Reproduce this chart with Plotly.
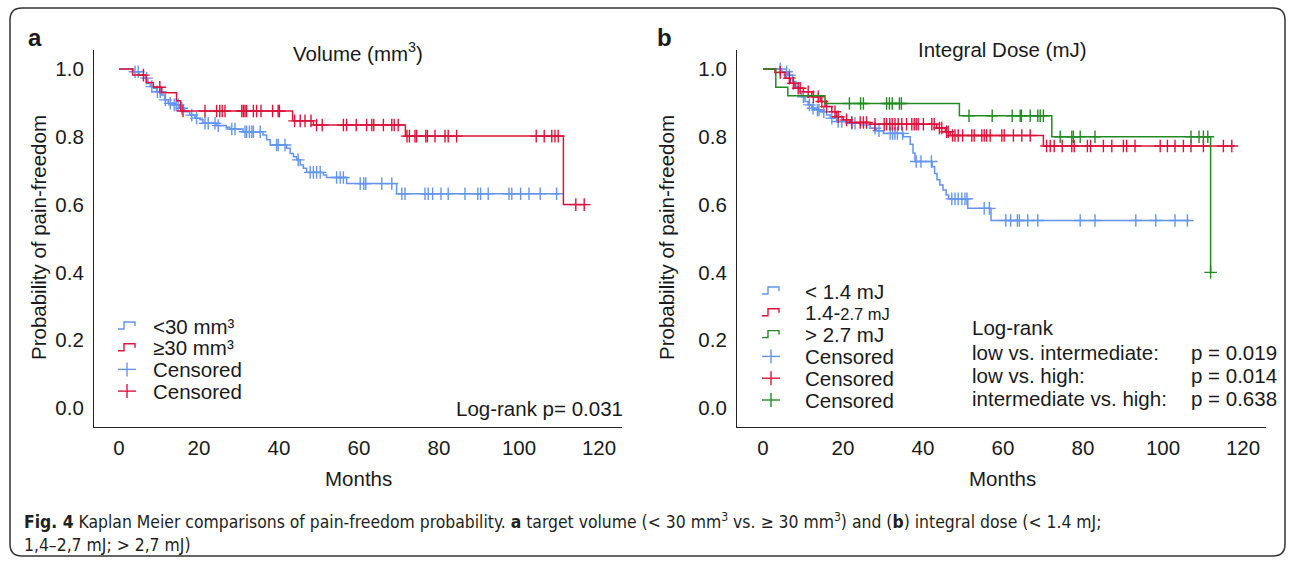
import plotly.graph_objects as go

W, H = 1292, 563
BLUE, RED, GREEN = "#6495ED", "#DC143C", "#228B22"
TXT = "#1a1a1a"
FONT = "Liberation Sans, Arial, sans-serif"
FS = 20.5

# ---------------- Panel a: target volume ----------------
a_small_t = [3.6, 5.0, 6.2, 7.2, 7.8, 8.6, 9.4, 10.6, 11.4, 12.3, 13.6, 15.2, 16.4, 17.7, 19.0,
             20.2, 21.0, 24.3, 26.8, 27.7, 31.0, 36.0, 36.9, 37.8, 41.9, 42.8, 43.6, 44.4, 45.3,
             46.1, 46.9, 51.1, 51.9, 56.9, 69.4]
a_small_s = [0.992, 0.982, 0.973, 0.958, 0.948, 0.943, 0.933, 0.923, 0.909, 0.899, 0.894, 0.884,
             0.874, 0.864, 0.855, 0.850, 0.840, 0.833, 0.828, 0.823, 0.815, 0.805, 0.791, 0.776,
             0.766, 0.751, 0.741, 0.732, 0.717, 0.707, 0.695, 0.687, 0.680, 0.662, 0.632]
a_small_end = 110.2
a_small_cens = [4.0, 4.8, 6.9, 8.2, 9.6, 10.3, 11.6, 12.8, 13.8, 14.3, 14.8, 15.7, 18.2, 19.4, 21.5,
                22.3, 24.0, 24.8, 28.2, 29.0, 31.5, 31.9, 32.6, 33.2, 33.6, 35.3, 39.4, 39.8, 41.5,
                44.8, 47.8, 48.6, 49.4, 50.3, 54.4, 55.3, 56.1, 60.3, 61.2, 61.7, 65.7, 68.2, 70.7,
                71.5, 76.5, 77.3, 78.4, 80.5, 82.3, 86.5, 89.7, 90.4, 92.3, 97.5, 98.2, 100.4, 102.5,
                105.3, 109.4]

a_large_t = [3.4, 6.8, 8.6, 10.7, 14.4, 15.4, 43.4, 48.6, 71.6, 111.1]
a_large_s = [0.982, 0.960, 0.946, 0.930, 0.906, 0.876, 0.847, 0.835, 0.802, 0.600]
a_large_end = 116.8
a_large_cens = [6.1, 10.2, 16.0, 21.5, 24.4, 25.2, 25.8, 26.5, 30.7, 31.1, 31.5, 31.9, 33.6, 34.4,
                35.5, 38.4, 39.8, 40.1, 43.9, 45.3, 46.5, 48.0, 49.4, 50.8, 56.1, 56.9, 59.3, 61.9,
                63.2, 63.7, 66.1, 68.2, 68.8, 69.8, 72.0, 72.6, 74.0, 74.4, 76.7, 77.1, 79.0, 81.5,
                82.3, 84.4, 104.3, 106.3, 108.2, 109.0, 109.8, 114.2, 116.3]

# ---------------- Panel b: integral dose ----------------
b_low_t = [4.8, 6.2, 7.4, 8.2, 9.0, 9.7, 10.5, 11.3, 12.2, 13.4, 14.7, 15.9, 16.8, 18.4, 21.8,
           24.3, 26.8, 28.4, 30.1, 35.1, 36.8, 37.5, 38.0, 42.3, 42.9, 43.5, 44.2, 45.0, 45.8,
           46.4, 51.2, 57.0]
b_low_s = [0.992, 0.982, 0.963, 0.948, 0.933, 0.918, 0.904, 0.894, 0.884, 0.879, 0.874, 0.864,
           0.855, 0.845, 0.840, 0.835, 0.825, 0.818, 0.810, 0.800, 0.778, 0.752, 0.727, 0.712,
           0.692, 0.673, 0.658, 0.643, 0.628, 0.617, 0.589, 0.553]
b_low_end = 106.7
b_low_cens = [4.3, 5.9, 6.6, 10.1, 11.6, 12.5, 13.6, 14.0, 15.2, 17.2, 18.8, 19.7, 22.2, 23.0,
              28.0, 29.0, 31.8, 32.4, 33.0, 33.6, 34.9, 38.3, 39.5, 42.1, 47.2, 48.0, 48.8, 49.7,
              50.5, 51.0, 55.3, 56.6, 60.7, 61.9, 63.6, 64.1, 66.2, 68.7, 79.3, 83.0, 93.2, 98.2,
              103.0, 106.1]

b_mid_t = [3.0, 5.5, 6.8, 8.0, 10.1, 12.2, 14.3, 15.5, 17.2, 18.4, 20.1, 21.8, 26.8, 43.4, 45.6,
           46.8, 70.1]
b_mid_s = [0.990, 0.973, 0.958, 0.943, 0.933, 0.918, 0.904, 0.889, 0.874, 0.859, 0.850, 0.842,
           0.837, 0.826, 0.815, 0.804, 0.773]
b_mid_end = 117.9
b_mid_cens = [4.3, 6.6, 7.6, 8.8, 9.3, 11.3, 12.6, 13.8, 14.7, 15.9, 18.0, 18.8, 20.9, 22.2, 24.3,
              25.1, 25.9, 28.0, 30.3, 30.9, 31.7, 32.3, 33.0, 33.8, 34.7, 35.9, 37.2, 37.8, 38.3,
              38.8, 40.1, 42.2, 42.8, 44.1, 44.7, 45.9, 46.3, 47.4, 48.0, 48.8, 49.9, 52.2, 52.8,
              54.7, 55.3, 55.9, 56.8, 59.7, 60.3, 62.6, 64.7, 66.8, 70.9, 71.8, 72.8, 74.8, 77.2,
              77.8, 81.1, 81.9, 85.1, 87.2, 90.1, 90.9, 93.0, 99.3, 101.1, 103.0, 105.1, 107.0,
              110.1, 115.1, 117.2]

b_high_t = [3.2, 6.2, 15.5, 49.1, 72.2, 111.9]
b_high_s = [0.946, 0.921, 0.898, 0.862, 0.800, 0.400]
b_high_end = 111.9
b_high_cens = [21.6, 24.4, 25.1, 30.9, 31.6, 32.3, 34.1, 34.6, 51.5, 57.3, 62.3, 64.3, 64.6, 66.8,
               68.7, 69.3, 70.1, 74.3, 77.2, 77.6, 79.3, 83.0, 107.0, 109.0, 110.1, 111.2, 111.9]

x_ticks = [0, 20, 40, 60, 80, 100, 120]
y_ticks = [0.0, 0.2, 0.4, 0.6, 0.8, 1.0]
y_ticktext = ["0.0", "0.2", "0.4", "0.6", "0.8", "1.0"]

a_legend = ["&lt;30 mm³", "≥30 mm³", "Censored", "Censored"]
b_legend = ["&lt; 1.4 mJ", "1.4-<span style='font-size:16.5px'>2.7 mJ</span>", "&gt; 2.7 mJ",
            "Censored", "Censored", "Censored"]
b_logrank_rows = ["low vs. intermediate:", "low vs. high:", "intermediate vs. high:"]
b_logrank_p = ["p = 0.019", "p = 0.014", "p = 0.638"]


def px(x):
    return x / W


def py(y):
    return 1 - y / H


def km_xy(t, s, end):
    return [0.0] + list(t) + [end], [1.0] + list(s) + [s[-1]]


def surv_at(tc, t, s):
    level = 1.0
    for ti, si in zip(t, s):
        if ti <= tc:
            level = si
    return level


fig = go.Figure()


def add_curve(t, s, end, cens, color, xa, ya):
    x, y = km_xy(t, s, end)
    fig.add_trace(go.Scatter(x=x, y=y, mode="lines", xaxis=xa, yaxis=ya,
                             line=dict(color=color, width=1.5, shape="hv"),
                             showlegend=False, hoverinfo="skip"))
    fig.add_trace(go.Scatter(x=cens, y=[surv_at(c, t, s) for c in cens], mode="markers",
                             xaxis=xa, yaxis=ya,
                             marker=dict(symbol="cross-thin", size=9,
                                         line=dict(color=color, width=1.4)),
                             showlegend=False, hoverinfo="skip"))


add_curve(a_small_t, a_small_s, a_small_end, a_small_cens, BLUE, "x", "y")
add_curve(a_large_t, a_large_s, a_large_end, a_large_cens, RED, "x", "y")
add_curve(b_low_t, b_low_s, b_low_end, b_low_cens, BLUE, "x2", "y2")
add_curve(b_mid_t, b_mid_s, b_mid_end, b_mid_cens, RED, "x2", "y2")
add_curve(b_high_t, b_high_s, b_high_end, b_high_cens, GREEN, "x2", "y2")

ydom = [py(427), py(50)]
axis_common = dict(showline=True, linecolor="#222", linewidth=1.2, showgrid=False,
                   zeroline=False, ticks="", tickfont=dict(size=FS, color=TXT, family=FONT))
fig.update_layout(
    xaxis=dict(domain=[px(94), px(622)], range=[-6.25, 125.75], tickvals=x_ticks,
               anchor="y", ticklabelstandoff=2, **axis_common),
    yaxis=dict(domain=ydom, range=[-0.056, 1.056], tickvals=y_ticks, ticktext=y_ticktext,
               anchor="x", ticklabelstandoff=5, **axis_common),
    xaxis2=dict(domain=[px(737), px(1266)], range=[-6.5, 125.75], tickvals=x_ticks,
                anchor="y2", ticklabelstandoff=2, **axis_common),
    yaxis2=dict(domain=ydom, range=[-0.056, 1.056], tickvals=y_ticks, ticktext=y_ticktext,
                anchor="x2", ticklabelstandoff=5, **axis_common),
)

ann = []


def text(x, y, s, size=FS, xanchor="center", angle=0, color=TXT, family=FONT):
    ann.append(dict(x=px(x), y=py(y), xref="paper", yref="paper", text=s, showarrow=False,
                    xanchor=xanchor, yanchor="middle", textangle=angle,
                    font=dict(size=size, color=color, family=family)))


text(35, 37, "<b>a</b>", size=24)
text(664, 37, "<b>b</b>", size=24)
text(358, 52, "Volume (mm<sup>3</sup>)")
text(1002, 49, "Integral Dose (mJ)")
text(358, 478, "Months")
text(1002, 478, "Months")
text(38, 238, "Probability of pain-freedom", angle=-90)
text(666, 238, "Probability of pain-freedom", angle=-90)
text(625, 408, "Log-rank p= 0.031", xanchor="right")
text(970, 327, "Log-rank", xanchor="left")
for i, (r, p) in enumerate(zip(b_logrank_rows, b_logrank_p)):
    text(970, 352 + 23 * i, r, xanchor="left")
    text(1189, 352 + 23 * i, p, xanchor="left")

shapes = []


def step_icon(x0, y, color):
    path = "M {},{} L {},{} L {},{} L {},{} L {},{}".format(
        px(x0), py(y + 3), px(x0 + 6), py(y + 3), px(x0 + 6), py(y - 4),
        px(x0 + 17), py(y - 4), px(x0 + 17), py(y))
    shapes.append(dict(type="path", path=path, xref="paper", yref="paper",
                       line=dict(color=color, width=1.4)))


def plus_icon(xc, y, color):
    shapes.append(dict(type="line", xref="paper", yref="paper", x0=px(xc - 9), x1=px(xc + 9),
                       y0=py(y), y1=py(y), line=dict(color=color, width=1.4)))
    shapes.append(dict(type="line", xref="paper", yref="paper", x0=px(xc), x1=px(xc),
                       y0=py(y - 7), y1=py(y + 7), line=dict(color=color, width=1.4)))


a_cols = [BLUE, RED, BLUE, RED]
for i, (lab, c) in enumerate(zip(a_legend, a_cols)):
    yy = 326 + 21.7 * i
    if i < 2:
        step_icon(118, yy, c)
    else:
        plus_icon(127, yy, c)
    text(151, yy, lab, xanchor="left")

b_cols = [BLUE, RED, GREEN, BLUE, RED, GREEN]
for i, (lab, c) in enumerate(zip(b_legend, b_cols)):
    yy = 291 + 21.8 * i
    if i < 3:
        step_icon(762, yy, c)
    else:
        plus_icon(771, yy, c)
    text(803, yy, lab, xanchor="left")

# caption
CAP = "DejaVu Sans Condensed, Open Sans, sans-serif"
text(22, 521, "<b>Fig. 4</b> Kaplan Meier comparisons of pain-freedom probability. <b>a</b> target volume "
     "(&lt; 30 mm<sup>3</sup> vs. ≥ 30 mm<sup>3</sup>) and (<b>b</b>) integral dose (&lt; 1.4 mJ;",
     size=17.4, xanchor="left", color="#231f20", family=CAP)
text(22, 545, "1,4–2,7 mJ; &gt; 2,7 mJ)", size=17.4, xanchor="left", color="#231f20", family=CAP)

# rounded frame
r = 12
x0, x1, y0, y1 = 10, 1285, 8, 556
frame = ("M {a},{b} L {c},{b} Q {d},{b} {d},{e} L {d},{f} Q {d},{g} {c},{g} "
         "L {a},{g} Q {h},{g} {h},{f} L {h},{e} Q {h},{b} {a},{b} Z").format(
    a=px(x0 + r), b=py(y0), c=px(x1 - r), d=px(x1), e=py(y0 + r), f=py(y1 - r), g=py(y1), h=px(x0))
shapes.append(dict(type="path", path=frame, xref="paper", yref="paper",
                   line=dict(color="#333", width=1.5)))

fig.update_layout(width=W, height=H, autosize=False, margin=dict(l=0, r=0, t=0, b=0),
                  paper_bgcolor="white", plot_bgcolor="white", annotations=ann, shapes=shapes,
                  font=dict(family=FONT, color=TXT), showlegend=False)

fig.write_html("out.html", config={"displayModeBar": False},
               post_script="document.body.style.margin='0';")
